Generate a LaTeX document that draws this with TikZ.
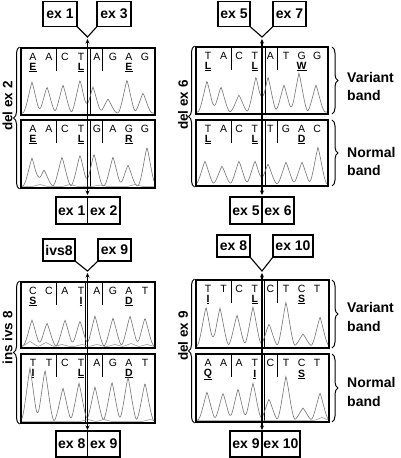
\documentclass[tikz,border=0pt]{standalone}
\usepackage{fontspec}
\setmainfont{Liberation Sans}
\usetikzlibrary{arrows.meta,decorations.pathreplacing}
\tikzset{
  declare function={bump(\xx,\cx,\hx)=\hx*max(0,1-abs((\xx-\cx)/9.5))*max(0,1-((\xx-\cx)/9.5)*((\xx-\cx)/9.5));},
  frame/.style={draw,line width=1.2pt,inner sep=0pt,outer sep=0pt},
  exlab/.style={draw,line width=1.2pt,inner sep=0pt,outer sep=0pt,font=\fontsize{14}{16}\selectfont\bfseries},
  sidelab/.style={font=\fontsize{14}{18.5}\selectfont\bfseries,align=left,anchor=west,inner sep=0pt},
  rotlab/.style={font=\fontsize{13.5}{16}\selectfont\bfseries,rotate=90,inner sep=0pt},
  basech/.style={font=\fontsize{10.5}{11}\selectfont,inner sep=0pt},
  aach/.style={font=\fontsize{10.5}{11}\selectfont\bfseries,inner sep=0pt},
  codon/.style={line width=0.9pt},
  junct/.style={line width=0.6pt},
  trace/.style={line width=0.6pt,black!55},
  minor/.style={line width=0.5pt,black!45},
  dbl/.style={line width=1.3pt,{Stealth[length=4.5pt,width=4pt]}-{Stealth[length=4.5pt,width=4pt]}},
  vline/.style={line width=1.1pt},
  brc/.style={decorate,decoration={brace,amplitude=6pt},line width=1pt},
}
% box with codon separators: #1 name, #2 L, #3 R, #4 T, #5 B
\newcommand\seqbox[5]{%
  \node[frame,minimum width={#3-#2},minimum height={#5-#4},anchor=north west] (#1) at (#2,#4) {};
  \draw[codon] (#2+35,#4) -- (#2+35,#4+23);
  \draw[codon] (#2+81,#4) -- (#2+81,#4+23);
}
% bases: #1 prefix, #2 first x, #3 spacing, #4 y, #5 list
\newcommand\bases[5]{%
  \foreach \ch [count=\i] in {#5} \node[basech] (#1\i) at ({#2+#3*(\i-1)},#4) {\ch};
}
% amino acids at positions 1,4,7
\newcommand\aminos[5]{%
  \foreach \am [count=\i] in {#5} {\pgfmathtruncatemacro\k{3*\i-2}
    \node[aach] (#1\k) at ({#2+#3*(\k-1)},#4) {\underline{\am}};}
}
% trace: #1 xmin, #2 xmax, #3 baseline, #4 list c/h, #5 style
\newcommand\chromtr[5]{%
  \def\pexpr{0}%
  \foreach \cc/\hh in {#4}{\xdef\pexpr{\unexpanded\expandafter{\pexpr}+bump(\noexpand\x,\cc,\hh)}}%
  \draw[#5] plot[domain=#1:#2,samples=200] (\x,{#3-(\pexpr)});
}
\begin{document}
\begin{tikzpicture}[x=1pt,y=-1pt]
\useasboundingbox (0,0) rectangle (400,458);

% ================= Panel 1 =================
\node[exlab,minimum width=34pt,minimum height=25pt] (t1a) at (60,14) {ex 1};
\node[exlab,minimum width=34pt,minimum height=25pt] (t1b) at (114,14) {ex 3};
\coordinate (v1) at (87.5,37);
\draw[vline] (t1a.south east) -- (v1) -- (t1b.south west);
\seqbox{p1u}{21}{155}{48}{115}
\seqbox{p1l}{21}{155}{120}{188}
\draw[junct] (90,48) -- (90,115);
\draw[junct] (90,120) -- (90,188);
\bases{p1ub}{33}{16}{57}{A,A,C,T,A,G,A,G}
\aminos{p1ua}{33}{16}{67.5}{E,L,E}
\bases{p1lb}{33}{16}{129}{A,A,C,T,G,A,G,G}
\aminos{p1la}{33}{16}{139.5}{E,L,R}
\chromtr{22}{154}{113}{32/31,47/26,63/28,80/33,93/26,108/14,127/33,143/20}{trace}
\chromtr{22}{154}{186}{32/28,44/16,62/29,80/31,94/32,113/29,128/21,147/39}{trace}
\chromtr{22}{154}{186.5}{40/2,70/2,100/1.5,135/2}{minor}
\coordinate (a1t) at (87.5,39);
\coordinate (a1b) at (87.5,195);
\draw[dbl] (a1t) -- (a1b);
\node[exlab,minimum width=31.5pt,minimum height=27pt] (b1a) at (71.75,210.5) {ex 1};
\node[exlab,minimum width=32.5pt,minimum height=27pt] (b1b) at (103.75,210.5) {ex 2};
\draw[brc] (19.5,189) -- (19.5,47);
\node[rotlab] (r1) at (7.5,106) {del ex 2};

% ================= Panel 2 =================
\node[exlab,minimum width=32pt,minimum height=25pt] (t2a) at (234,14) {ex 5};
\node[exlab,minimum width=33pt,minimum height=25pt] (t2b) at (289.5,14) {ex 7};
\coordinate (v2) at (262,37);
\draw[vline] (t2a.south east) -- (v2) -- (t2b.south west);
\seqbox{p2u}{196}{328}{47}{114}
\seqbox{p2l}{196}{328}{120}{186}
\draw[junct] (265,47) -- (265,114);
\draw[junct] (265,120) -- (265,186);
\bases{p2ub}{208}{15.6}{56}{T,A,C,T,A,T,G,G}
\aminos{p2ua}{208}{15.6}{66.5}{L,L,W}
\bases{p2lb}{208}{15.6}{129}{T,A,C,T,T,G,A,C}
\aminos{p2la}{208}{15.6}{139.5}{L,L,D}
\chromtr{197}{327}{112}{207/31,221/25,239/17,256/35,268/35,284/27,299/39,316/27}{trace}
\chromtr{197}{327}{184}{205/23,222/18,239/23,255/23,268/20,286/22,302/22,318/37}{trace}
\coordinate (a2t) at (262,39);
\coordinate (a2b) at (262,195);
\draw[dbl] (a2t) -- (a2b);
\node[exlab,minimum width=32pt,minimum height=27pt] (b2a) at (246,210.5) {ex 5};
\node[exlab,minimum width=32pt,minimum height=27pt] (b2b) at (278,210.5) {ex 6};
\draw[brc] (194.5,187) -- (194.5,46);
\node[rotlab] (r2) at (183,105) {del ex 6};
\draw[brc] (332,47) -- (332,114);
\draw[brc] (332,120) -- (332,186);
\node[sidelab] (s2a) at (347,86.5) {Variant\\band};
\node[sidelab] (s2b) at (347,161.5) {Normal\\band};

% ================= Panel 3 =================
\node[exlab,minimum width=32pt,minimum height=22pt] (t3a) at (59,250) {ivs8};
\node[exlab,minimum width=33pt,minimum height=22pt] (t3b) at (114.5,250) {ex 9};
\coordinate (v3) at (87.5,271);
\draw[vline] (t3a.south east) -- (v3) -- (t3b.south west);
\seqbox{p3u}{21}{155}{282}{348}
\seqbox{p3l}{21}{155}{354}{423}
\draw[junct] (85,282) -- (85,348);
\draw[junct] (85,354) -- (85,423);
\bases{p3ub}{33}{16}{291}{C,C,A,T,A,G,A,T}
\aminos{p3ua}{33}{16}{301.5}{S,I,D}
\bases{p3lb}{33}{16}{363}{T,T,C,T,A,G,A,T}
\aminos{p3la}{33}{16}{373.5}{I,L,D}
\chromtr{22}{154}{346}{32/26,47/23,65/26,80/25,95/30,113/28,130/30,145/28}{trace}
\chromtr{22}{154}{346.5}{30/5,46/4,62/2,82/2,97/2,115/2,131/3,147/2}{minor}
\chromtr{22}{154}{421}{30/53,45/51,63/33,79/38,95/34,112/39,128/44,145/38}{trace}
\chromtr{22}{154}{421.5}{88/2,104/2,150/2}{minor}
\coordinate (a3t) at (87.5,273);
\coordinate (a3b) at (87.5,430);
\draw[dbl] (a3t) -- (a3b);
\node[exlab,minimum width=31.5pt,minimum height=26pt] (b3a) at (71.75,444) {ex 8};
\node[exlab,minimum width=32.5pt,minimum height=26pt] (b3b) at (103.75,444) {ex 9};
\draw[brc] (19.5,424) -- (19.5,281);
\node[rotlab] (r3) at (7.5,338) {ins ivs 8};

% ================= Panel 4 =================
\node[exlab,minimum width=33pt,minimum height=22pt] (t4a) at (233.5,246) {ex 8};
\node[exlab,minimum width=40pt,minimum height=22pt] (t4b) at (293,246) {ex 10};
\coordinate (v4) at (262,271);
\draw[vline] (t4a.south east) -- (v4) -- (t4b.south west);
\seqbox{p4u}{196}{329}{280}{348}
\seqbox{p4l}{196}{329}{354}{422}
\draw[junct] (264,280) -- (264,348);
\draw[junct] (264,354) -- (264,422);
\bases{p4ub}{208}{15.6}{289}{T,T,C,T,C,T,C,T}
\aminos{p4ua}{208}{15.6}{299.5}{I,L,S}
\bases{p4lb}{208}{15.6}{362.5}{A,A,A,T,C,T,C,T}
\aminos{p4la}{208}{15.6}{374.5}{Q,I,S}
\chromtr{197}{328}{346}{206/39,220/38,237/31,253/39,269/22,286/44,303/12,320/29}{trace}
\chromtr{197}{328}{420}{207/28,223/27,238/31,253/37,269/21,286/44,303/12,320/27}{trace}
\chromtr{197}{328}{420.5}{322/3}{minor}
\coordinate (a4t) at (262,273);
\coordinate (a4b) at (262,430);
\draw[dbl] (a4t) -- (a4b);
\node[exlab,minimum width=32pt,minimum height=26pt] (b4a) at (246,444) {ex 9};
\node[exlab,minimum width=38pt,minimum height=26pt] (b4b) at (281,444) {ex 10};
\draw[brc] (194.5,423) -- (194.5,279);
\node[rotlab] (r4) at (183,336) {del ex 9};
\draw[brc] (332,280) -- (332,348);
\draw[brc] (332,354) -- (332,422);
\node[sidelab] (s4a) at (347,317) {Variant\\band};
\node[sidelab] (s4b) at (347,392) {Normal\\band};
\end{tikzpicture}
\end{document}
